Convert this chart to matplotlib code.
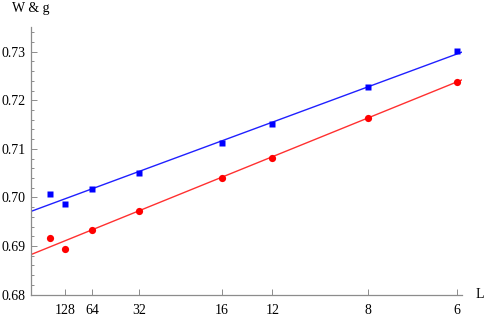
import numpy as np
import matplotlib
matplotlib.use("Agg")
import matplotlib.pyplot as plt
from matplotlib.ticker import MultipleLocator

# sizes L and the two measured quantities
L = [256, 128, 64, 32, 16, 12, 8, 6]
W = [0.7007, 0.6986, 0.7018, 0.7050, 0.7112, 0.7151, 0.7227, 0.7301]
g = [0.6917, 0.6893, 0.6932, 0.6971, 0.7039, 0.7081, 0.7163, 0.7238]
L_ticks = [128, 64, 32, 16, 12, 8, 6]

# fitted straight lines (intercept, slope) in x = L^-omega
omega = 0.82
W_fit = (0.6971, 0.1411)
g_fit = (0.6882, 0.1548)

def xs(l):
    return np.asarray(l, dtype=float) ** (-omega)

plt.rcParams['font.family'] = ['Liberation Serif', 'DejaVu Serif']

fig = plt.figure(figsize=(4.85, 3.16), dpi=100)
ax = fig.add_axes([0.0633, 0.068, 0.8887, 0.8466])

x_max = 0.2325
xx = np.linspace(0, x_max, 50)
ax.plot(xx, W_fit[0] + W_fit[1]*xx, color='#2020ff', lw=1.0, zorder=2)
ax.plot(xx, g_fit[0] + g_fit[1]*xx, color='#ff3030', lw=1.0, zorder=2)
ax.plot(xs(L), W, 's', color='#0000ff', ms=4.3, mec='none', zorder=3)
ax.plot(xs(L), g, 'o', color='#ff0000', ms=5.2, mec='none', zorder=3)

ax.set_xlim(0, x_max)
ax.set_ylim(0.68, 0.7351)

ax.set_xticks(xs(L_ticks))
ax.set_xticklabels([str(v) for v in L_ticks])
ax.set_yticks([0.68, 0.69, 0.70, 0.71, 0.72, 0.73])
ax.set_yticklabels(['0.68', '0.69', '0.70', '0.71', '0.72', '0.73'])
ax.yaxis.set_minor_locator(MultipleLocator(0.002))

for s in ['top', 'right']:
    ax.spines[s].set_visible(False)
for s in ['left', 'bottom']:
    ax.spines[s].set_color('#8c8c8c')
    ax.spines[s].set_linewidth(0.9)

ax.tick_params(axis='both', which='both', direction='in', color='#8c8c8c',
               labelsize=10, width=0.7)
ax.tick_params(axis='y', which='major', length=4.5, pad=4)
ax.tick_params(axis='y', which='minor', length=2.5)
ax.tick_params(axis='x', which='major', length=4.5, pad=7)

fig.text(12/485, 1 - 12/316, 'W & g', fontsize=10, va='baseline', ha='left')
fig.text(476/485, 1 - 295/316, 'L', fontsize=10, va='center', ha='left')

fig.savefig('out.png', dpi=100)
